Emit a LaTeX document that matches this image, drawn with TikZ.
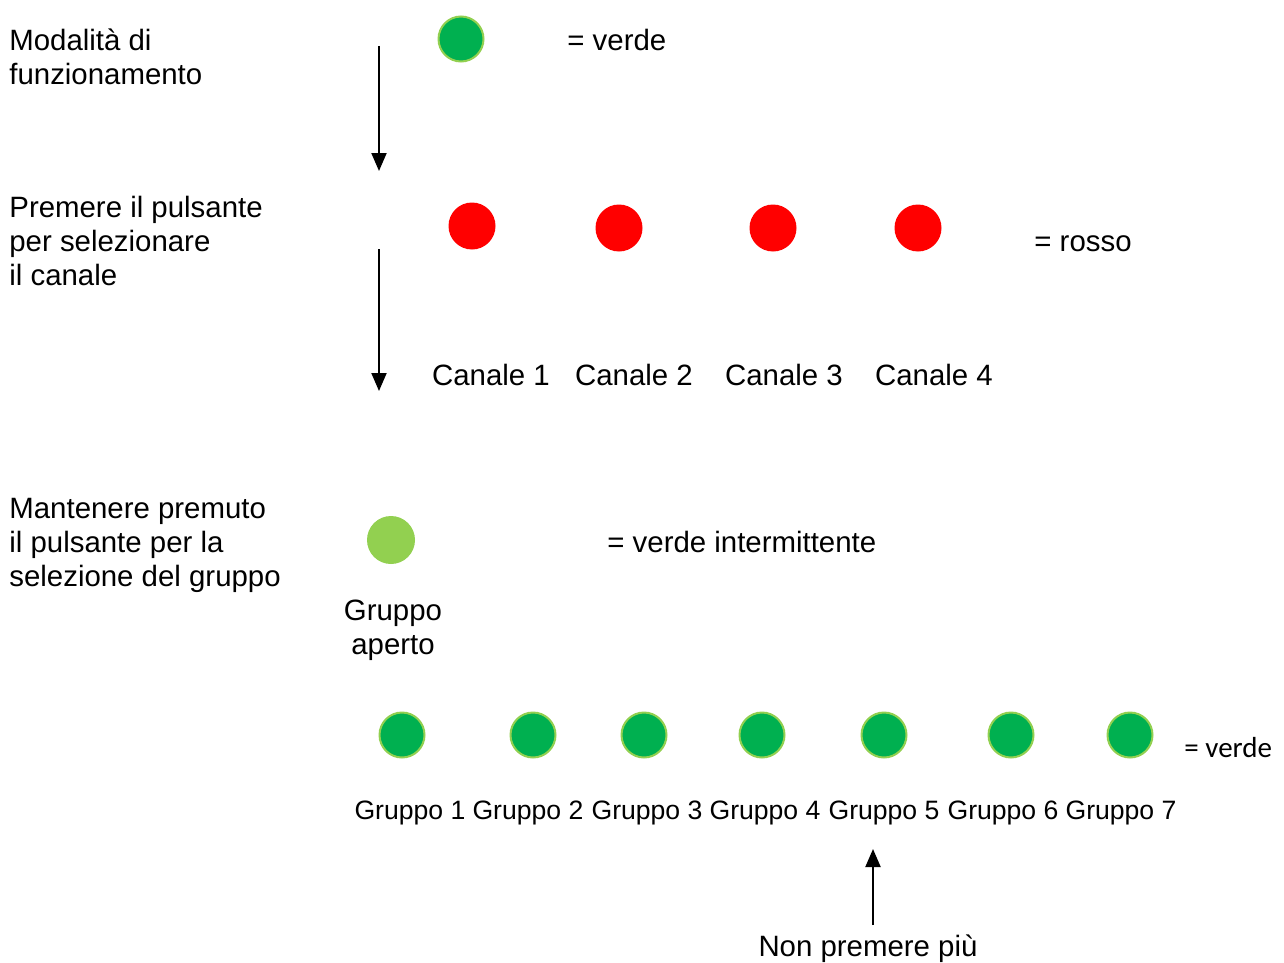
\documentclass[tikz,border=0pt]{standalone}
\usepackage{fontspec}
\setmainfont{Liberation Sans}
\newfontfamily\calfont{Carlito}
\usepackage{xcolor}
\usetikzlibrary{arrows.meta,positioning}
\definecolor{ledgreen}{HTML}{00B050}
\definecolor{ledlime}{HTML}{92D050}
\definecolor{ledred}{HTML}{FF0000}
\tikzset{
  >={Triangle[length=9pt,width=7.5pt]},
  txt/.style={anchor=west, align=left, inner sep=0pt, font=\fontsize{14.7}{17}\selectfont},
  lbl/.style={txt, anchor=center, align=center},
  led/.style={circle, minimum size=23pt, inner sep=0pt},
  ledon/.style={led, fill=ledgreen, draw=ledlime, line width=1pt, minimum size=22.5pt},
  ledoff/.style={led, fill=ledred, minimum size=23.5pt},
  ledblink/.style={led, fill=ledlime, minimum size=24pt},
  conn/.style={->, line width=1pt},
}

\begin{document}
\begin{tikzpicture}[x=0.5pt, y=-0.5pt]
    \useasboundingbox (0,0) rectangle (1284,963);

    % step 1: operating mode
    \node[txt] (mode) at (9,57) {Modalità di\\funzionamento};
    \node[ledon] (modeled) at (461,39) {};
    \node[txt] (modekey) at (567,40) {= verde};
    \coordinate (a1) at (379,46);
    \coordinate (a1end) at (379,171);
    \draw[conn] (a1) -- (a1end);

    % step 2: channels
    \node[txt] (press) at (9,241) {Premere il pulsante\\per selezionare\\il canale};
    \node[ledoff] (ch1) at (472,226) {};
    \node[ledoff] (ch2) at (619,228) {};
    \node[ledoff] (ch3) at (773,228) {};
    \node[ledoff] (ch4) at (918,228) {};
    \node[txt] (chkey) at (1034,244) {= rosso};
    \foreach \x/\n in {491/1, 634/2, 784/3, 934/4}
        \node[lbl] (chlbl\n) at (\x,375) {Canale \n};
    \coordinate (a2) at (379,249);
    \coordinate (a2end) at (379,391);
    \draw[conn] (a2) -- (a2end);

    % step 3: groups
    \node[txt] (hold) at (9,545) {Mantenere premuto\\il pulsante per la\\selezione del gruppo};
    \node[ledblink] (open) at (391,540) {};
    \node[txt] (openkey) at (607,542) {= verde intermittente};
    \node[lbl] (openlbl) at (393,630) {Gruppo\\aperto};

    \foreach \x [count=\n] in {402,533,644,762,884,1011,1130}
        \node[ledon] (grp\n) at (\x,735) {};
    \node[txt, font=\calfont\fontsize{14.5}{17}\selectfont] (grpkey) at (1184,748) {= verde};
    \foreach \x [count=\n] in {410,528,647,765,884,1003,1121}
        \node[lbl, font=\fontsize{13.3}{16}\selectfont] (grplbl\n) at (\x,813) {Gruppo \n};

    % release
    \node[lbl] (stop) at (868,949) {Non premere più};
    \coordinate (a3) at (873,925);
    \coordinate (a3end) at (873,849);
    \draw[conn] (a3) -- (a3end);
\end{tikzpicture}
\end{document}
